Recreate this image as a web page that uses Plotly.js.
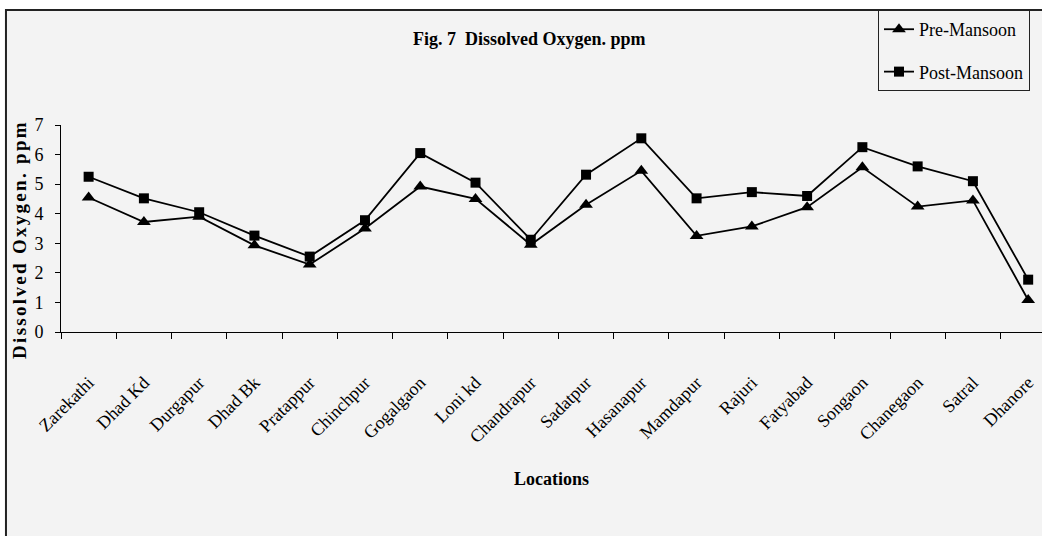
<!DOCTYPE html>
<html>
<head>
<meta charset="utf-8">
<script src="https://cdn.plot.ly/plotly-3.0.1.min.js"></script>
<style>
  html, body { margin: 0; padding: 0; background: #ffffff; }
  #chart { width: 1042px; height: 536px; }
  .ytitle { letter-spacing: 2.3px; translate: 4px 11px; }
</style>
</head>
<body>
<div id="chart"></div>
<script>
const locations = ["Zarekathi", "Dhad Kd", "Durgapur", "Dhad Bk", "Pratappur", "Chinchpur",
  "Gogalgaon", "Loni kd", "Chandrapur", "Sadatpur", "Hasanapur", "Mamdapur", "Rajuri",
  "Fatyabad", "Songaon", "Chanegaon", "Satral", "Dhanore"];
const preMansoon = [4.55, 3.72, 3.9, 2.93, 2.28, 3.5, 4.92, 4.5, 2.95, 4.3, 5.45, 3.25, 3.57, 4.22, 5.57, 4.24, 4.45, 1.08];
const postMansoon = [5.25, 4.52, 4.05, 3.26, 2.55, 3.78, 6.05, 5.05, 3.12, 5.32, 6.55, 4.52, 4.73, 4.6, 6.25, 5.6, 5.1, 1.77];
const yTicks = [0, 1, 2, 3, 4, 5, 6, 7];

const serif = "'Liberation Serif', 'Times New Roman', serif";

const traces = [
  {
    x: locations, y: preMansoon, name: "Pre-Mansoon", type: "scatter", mode: "lines+markers",
    legendgroup: "pre",
    line: { color: "#000000", width: 1.8 },
    marker: { symbol: "triangle-up", size: 12, color: "#000000" }
  },
  {
    x: locations, y: postMansoon, name: "Post-Mansoon", type: "scatter", mode: "lines+markers",
    legendgroup: "post",
    line: { color: "#000000", width: 1.8 },
    marker: { symbol: "square", size: 10, color: "#000000" }
  }
];

const layout = {
  width: 1042, height: 536,
  margin: { l: 61, r: 0, t: 125, b: 204, autoexpand: false },
  paper_bgcolor: "#ffffff",
  plot_bgcolor: "rgba(0,0,0,0)",
  font: { family: serif, color: "#000000", size: 18 },
  title: {
    text: "Fig. 7\u00a0 Dissolved Oxygen. ppm",
    font: { family: serif, size: 18, weight: "bold", color: "#000000" },
    xref: "container", x: 0.508, xanchor: "center",
    yref: "container", y: 0.928, yanchor: "middle"
  },
  showlegend: true,
  legend: {
    xref: "container", yref: "container",
    x: 0.8426, y: 0.9813, xanchor: "left", yanchor: "top",
    bgcolor: "#f3f3f3", bordercolor: "#222222", borderwidth: 1,
    font: { family: serif, size: 18, color: "#000000" },
    traceorder: "grouped", tracegroupgap: 16
  },
  xaxis: {
    type: "category",
    categoryorder: "array", categoryarray: locations,
    range: [-0.5, 17.25],
    showgrid: false, zeroline: false,
    showline: true, linecolor: "#000000", linewidth: 1,
    ticks: "outside", tickson: "boundaries", ticklen: 6, tickcolor: "#000000", tickwidth: 1,
    tickangle: -45,
    ticklabelstandoff: 32,
    tickfont: { family: serif, size: 18, color: "#000000" },
    title: {
      text: "Locations",
      font: { family: serif, size: 18, weight: "bold", color: "#000000" },
      standoff: 26
    }
  },
  yaxis: {
    range: [0, 7],
    tickvals: yTicks, ticktext: yTicks.map(String),
    showgrid: false, zeroline: false,
    showline: true, linecolor: "#000000", linewidth: 1,
    ticks: "outside", ticklen: 5, tickcolor: "#000000", tickwidth: 1,
    ticklabelstandoff: 8,
    tickfont: { family: serif, size: 18, color: "#000000" },
    title: {
      text: "Dissolved Oxygen. ppm",
      font: { family: serif, size: 19, weight: "bold", color: "#000000" },
      standoff: 6
    }
  },
  shapes: [
    {
      type: "rect", xref: "paper", yref: "paper", layer: "below",
      x0: -0.0561, x1: 1.005, y0: -1.02, y1: 1.5556,
      fillcolor: "#f3f3f3",
      line: { color: "#222222", width: 2 }
    }
  ]
};

Plotly.newPlot("chart", traces, layout, { displayModeBar: false, staticPlot: true });
</script>
</body>
</html>
